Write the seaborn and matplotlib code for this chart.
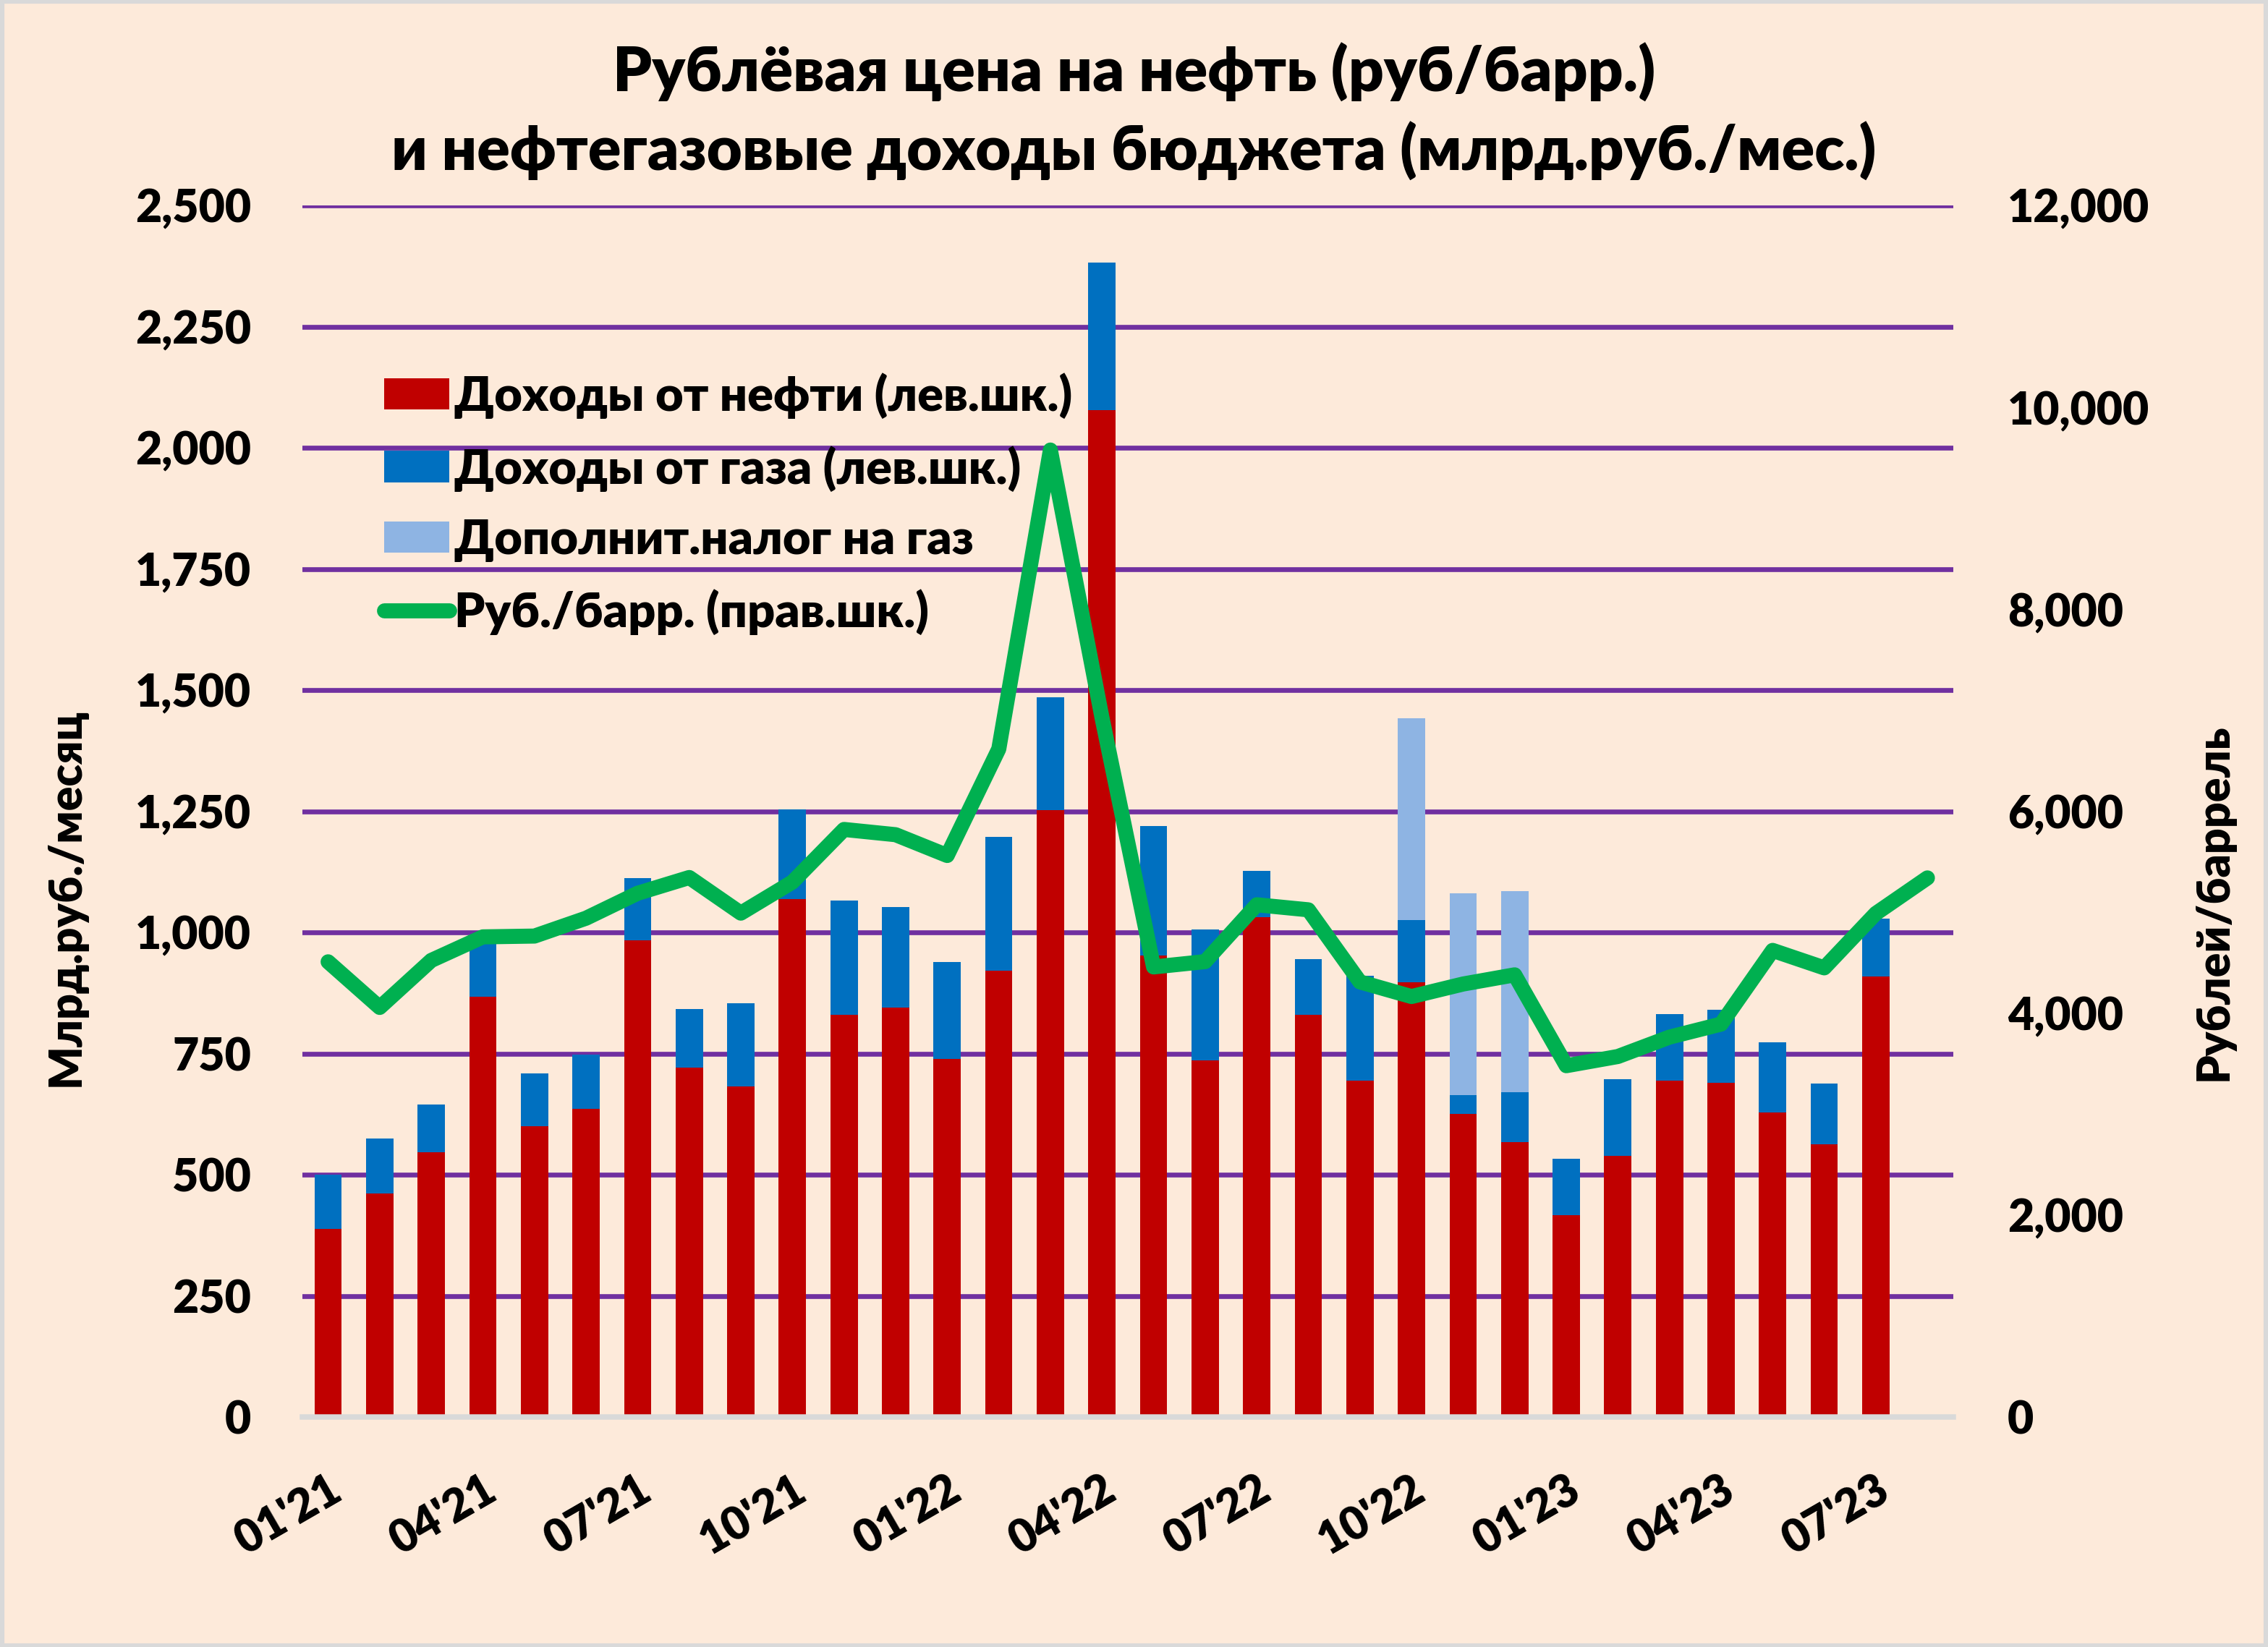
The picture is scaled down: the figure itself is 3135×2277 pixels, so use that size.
import numpy as np
import pandas as pd
import seaborn as sns
import matplotlib.pyplot as plt
from matplotlib.patches import Patch, Rectangle
from matplotlib.lines import Line2D
from matplotlib.ticker import FuncFormatter, MultipleLocator

# months 01'21 .. 08'23 (bars stop at 07'23, price line goes one month further)
months = ["01'21", "02'21", "03'21", "04'21", "05'21", "06'21", "07'21", "08'21",
          "09'21", "10'21", "11'21", "12'21", "01'22", "02'22", "03'22", "04'22",
          "05'22", "06'22", "07'22", "08'22", "09'22", "10'22", "11'22", "12'22",
          "01'23", "02'23", "03'23", "04'23", "05'23", "06'23", "07'23", "08'23"]

oil = [389, 461, 547, 867, 600, 637, 984, 721, 682, 1069, 830, 845, 739, 922, 1253, 2078,
       953, 736, 1032, 830, 694, 897, 626, 567, 417, 539, 694, 690, 629, 563, 909]
gas = [111, 114, 98, 123, 110, 112, 128, 121, 173, 186, 236, 208, 201, 275, 232, 304,
       267, 271, 96, 115, 217, 129, 38, 103, 117, 159, 138, 151, 145, 125, 120]
extra = [0, 0, 0, 0, 0, 0, 0, 0, 0, 0, 0, 0, 0, 0, 0, 0,
         0, 0, 0, 0, 0, 416, 417, 416, 0, 0, 0, 0, 0, 0, 0]
price = [4511, 4059, 4525, 4758, 4766, 4943, 5190, 5346, 4993, 5301, 5822, 5770, 5564, 6619,
         9580, 6930, 4460, 4513, 5076, 5026, 4312, 4167, 4291, 4382, 3482, 3573, 3765, 3894,
         4624, 4451, 4990, 5342]

bars = pd.DataFrame({'month': months[:len(oil)], 'oil': oil, 'gas': gas, 'extra': extra})
bars['oil_gas'] = bars['oil'] + bars['gas']
bars['total'] = bars['oil_gas'] + bars['extra']
line = pd.DataFrame({'pos': np.arange(len(months)), 'price': price})

sns.set_theme(style='white')
plt.rcParams['font.family'] = ['Lato', 'DejaVu Sans']
plt.rcParams['font.weight'] = 'heavy'
plt.rcParams['text.color'] = 'black'
plt.rcParams['xtick.color'] = 'black'
plt.rcParams['ytick.color'] = 'black'
plt.rcParams['axes.labelcolor'] = 'black'

bg = '#FDEADA'
red, blue, lightblue, green = '#C00000', '#0070C0', '#8EB4E3', '#00B050'
W = 'heavy'

fig = plt.figure(figsize=(10.45, 7.59), dpi=300, facecolor=bg)
ax = fig.add_axes([0.1333, 0.1395, 0.7279, 0.7356])
ax.set_facecolor('none')

# stacked bars drawn as overlapping cumulative totals
sns.barplot(data=bars, x='month', y='total', order=months, color=lightblue,
            width=0.53, linewidth=0, saturation=1, ax=ax)
sns.barplot(data=bars, x='month', y='oil_gas', order=months, color=blue,
            width=0.53, linewidth=0, saturation=1, ax=ax)
sns.barplot(data=bars, x='month', y='oil', order=months, color=red,
            width=0.53, linewidth=0, saturation=1, ax=ax)

ax.set_ylim(0, 2500)
ax.set_xlim(-0.5, len(months) - 0.5)
ax.yaxis.set_major_locator(MultipleLocator(250))
ax.yaxis.set_major_formatter(FuncFormatter(lambda v, p: f'{v:,.0f}'))
ax.grid(axis='y', color='#7030A0', linewidth=1.6)
ax.set_axisbelow(True)
ax.set_xlabel('')
ax.set_ylabel('')
ax.set_xticks(range(0, len(oil), 3))
ax.set_xticklabels(months[0:len(oil):3], rotation=30, ha='right',
                   rotation_mode='anchor', fontsize=15, fontweight=W)
ax.tick_params(axis='x', length=0, pad=17, colors='black')
ax.tick_params(axis='y', length=0, pad=17, labelsize=15, colors='black')
for s in ['left', 'right', 'top']:
    ax.spines[s].set_visible(False)
# grey category axis covers the zero gridline
ax.spines['bottom'].set_color('#D9D9D9')
ax.spines['bottom'].set_linewidth(1.8)
ax.spines['bottom'].set_zorder(3)

ax2 = ax.twinx()
sns.lineplot(data=line, x='pos', y='price', color=green, linewidth=5,
             solid_joinstyle='round', solid_capstyle='round', legend=False, ax=ax2)
ax2.set_ylim(0, 12000)
ax2.set_xlim(-0.5, len(months) - 0.5)
ax2.yaxis.set_major_locator(MultipleLocator(2000))
ax2.yaxis.set_major_formatter(FuncFormatter(lambda v, p: f'{v:,.0f}'))
ax2.tick_params(axis='y', length=0, pad=18, labelsize=15, colors='black')
ax2.set_xlabel('')
ax2.set_ylabel('')
for s in ax2.spines.values():
    s.set_visible(False)
for t in ax.get_yticklabels() + ax2.get_yticklabels():
    t.set_fontweight(W)

handles = [Patch(facecolor=red, edgecolor='none'),
           Patch(facecolor=blue, edgecolor='none'),
           Patch(facecolor=lightblue, edgecolor='none'),
           Line2D([0], [0], color=green, lw=5, solid_capstyle='round')]
labels = ['Доходы от нефти (лев.шк.)', 'Доходы от газа (лев.шк.)',
          'Дополнит.налог на газ', 'Руб./барр. (прав.шк.)']
ax2.legend(handles, labels, loc='upper left', bbox_to_anchor=(0.038, 0.878),
           frameon=False, handlelength=1.35, handleheight=0.62,
           handletextpad=0.1, labelspacing=0.55, borderaxespad=0,
           prop={'weight': W, 'size': 16})

fig.text(0.5, 0.956, 'Рублёвая цена на нефть (руб/барр.)', ha='center', va='center',
         fontsize=20.5, fontweight=W)
fig.text(0.5, 0.908, 'и нефтегазовые доходы бюджета (млрд.руб./мес.)', ha='center',
         va='center', fontsize=20.3, fontweight=W)
fig.text(0.029, 0.455, 'Млрд.руб./месяц', rotation=90, ha='center', va='center',
         fontsize=15, fontweight=W)
fig.text(0.976, 0.452, 'Рублей/баррель', rotation=90, ha='center', va='center',
         fontsize=15, fontweight=W)

fig.patches.append(Rectangle((0.001, 0.001), 0.998, 0.998, transform=fig.transFigure,
                             fill=False, edgecolor='#D9D9D9', linewidth=1.5))

fig.savefig('out.png', dpi=300, facecolor=bg)
